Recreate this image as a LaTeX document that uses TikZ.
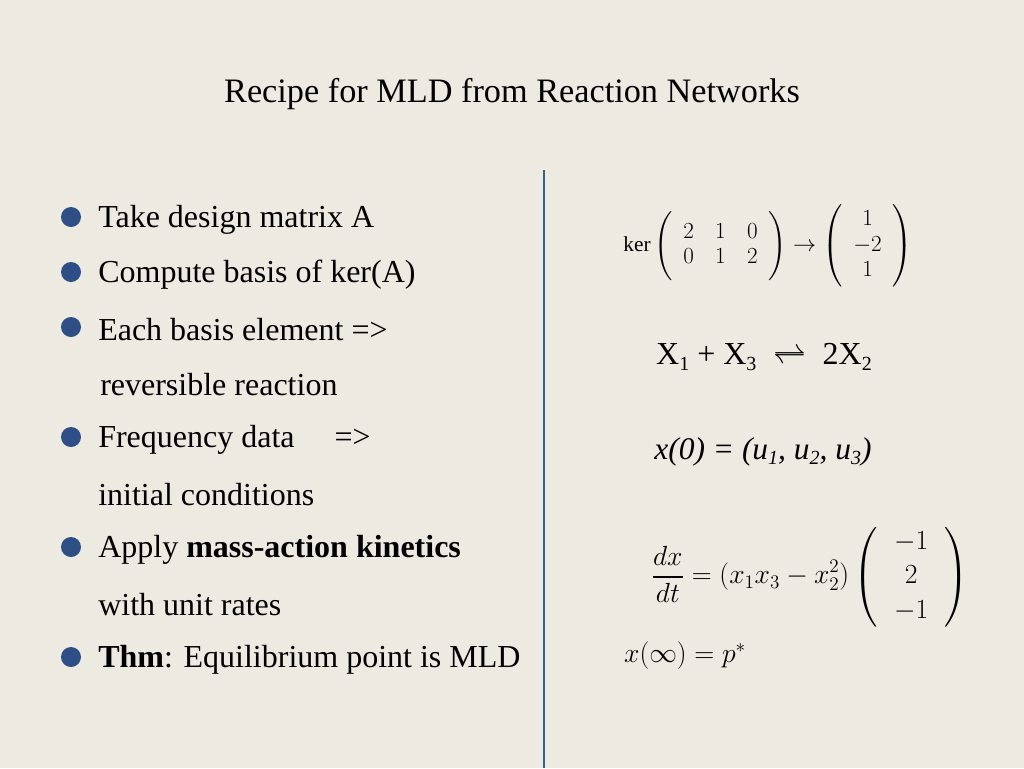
\documentclass[tikz,border=0pt]{standalone}
\usepackage{amsmath}
\usepackage{fontspec}
\setmainfont{Liberation Serif}
\newcommand{\lsub}[1]{\raisebox{-0.35ex}{\fontsize{15}{17}\selectfont #1}}
\begin{document}
\begin{tikzpicture}[x=0.75pt,y=-0.75pt,
  bul/.style={circle,fill=bluedot,inner sep=0pt,minimum size=15pt},
  txt/.style={anchor=west,inner sep=0pt,font=\fontsize{24}{28}\selectfont},
  rt/.style={inner sep=0pt}]
\definecolor{bg}{HTML}{ECEAE1}
\definecolor{bluedot}{HTML}{2E4F86}
\definecolor{vline}{HTML}{3D5F8E}
\fill[bg] (0,0) rectangle (1024,768);
\useasboundingbox (0,0) rectangle (1024,768);
\node[rt,font=\fontsize{25.7}{30}\selectfont] (title) at (512,94) {Recipe for MLD from Reaction Networks};
\coordinate (l1) at (544,170); \coordinate (l2) at (544,768);
\draw[vline,line width=2pt] (l1) -- (l2);
\foreach \y/\t [count=\i] in {217/{Take design matrix A},272/{Compute basis of ker(A)},327/{Each basis element =>},437/{Frequency data \quad=>},547/{Apply \textbf{mass-action kinetics}},657/{\textbf{Thm}: Equilibrium point is MLD}}{
  \node[bul] (b\i) at (71,\y) {};
  \node[txt] (t\i) at (98,\y+3) {\t};
}
\node[txt] (c1) at (100,385) {reversible reaction};
\node[txt] (c2) at (98,495) {initial conditions};
\node[txt] (c3) at (98,605) {with unit rates};
\node[rt,font=\fontsize{16}{19}\selectfont] (ker) at (768,246) {$\setlength{\arraycolsep}{8pt}\ker\left(\begin{array}{ccc}2&1&0\\0&1&2\end{array}\rule[-20pt]{0pt}{45pt}\right)\to\left(\begin{array}{c}1\\-2\\1\end{array}\right)$};
\node[rt,font=\fontsize{24}{28}\selectfont] (rx) at (764,357) {X\lsub{1} + X\lsub{3} \;$\rightleftharpoons$\; 2X\lsub{2}};
\node[rt,font=\fontsize{23.6}{28}\selectfont\itshape] (x0) at (763,452) {x(0) = (u\lsub{1}, u\lsub{2}, u\lsub{3})};
\node[rt,font=\fontsize{22.5}{26}\selectfont] (ode) at (810,577) {$\setlength{\arraycolsep}{12pt}\displaystyle\frac{dx}{dt}=(x_1x_3-x_2^2)\left(\begin{array}{c}-1\\2\\-1\end{array}\right)$};
\node[rt,font=\fontsize{21}{25}\selectfont] (inf) at (685,656) {$x(\infty)=p^*$};
\end{tikzpicture}
\end{document}
